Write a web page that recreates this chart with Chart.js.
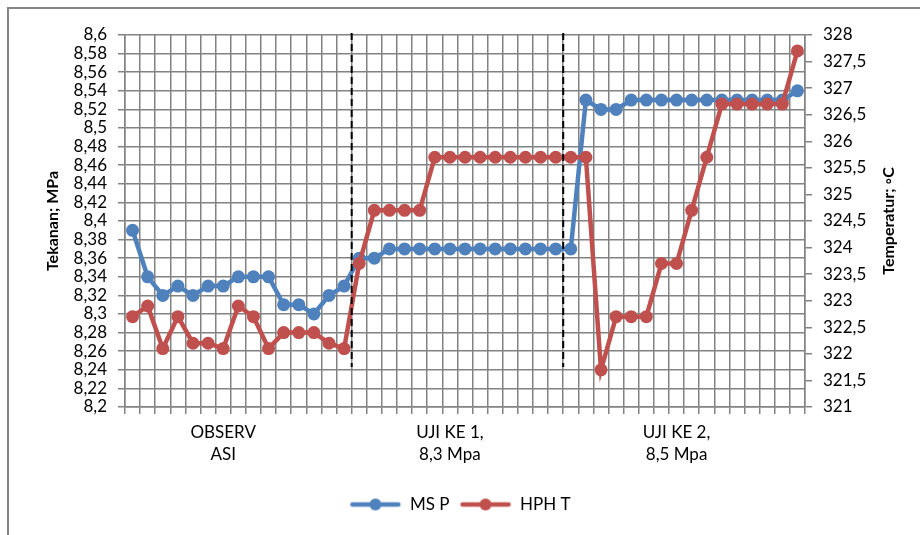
<!DOCTYPE html>
<html>
<head>
<meta charset="utf-8">
<script src="https://cdn.jsdelivr.net/npm/chart.js@4.4.1/dist/chart.umd.min.js"></script>
<style>
  html, body { margin: 0; padding: 0; background: #fff; }
  #wrap { width: 920px; height: 535px; }
</style>
</head>
<body>
<div id="wrap"><canvas id="chart" width="920" height="535"></canvas></div>
<script>
// Label grup pada sumbu X dan posisi kategorinya
const groupLabels = [['OBSERV', 'ASI'], ['UJI KE 1,', '8,3 Mpa'], ['UJI KE 2,', '8,5 Mpa']];
const groupLabelIndex = [6, 21, 36];
const pointCount = 45;

// Tekanan MS (MPa) - sumbu kiri
const msP = [
  8.39, 8.34, 8.32, 8.33, 8.32, 8.33, 8.33, 8.34, 8.34, 8.34, 8.31, 8.31, 8.30, 8.32, 8.33,
  8.36, 8.36, 8.37, 8.37, 8.37, 8.37, 8.37, 8.37, 8.37, 8.37, 8.37, 8.37, 8.37, 8.37, 8.37,
  8.53, 8.52, 8.52, 8.53, 8.53, 8.53, 8.53, 8.53, 8.53, 8.53, 8.53, 8.53, 8.53, 8.53, 8.54
];

// Temperatur HPH (°C) - sumbu kanan
const hphT = [
  322.7, 322.9, 322.1, 322.7, 322.2, 322.2, 322.1, 322.9, 322.7, 322.1, 322.4, 322.4, 322.4, 322.2, 322.1,
  323.7, 324.7, 324.7, 324.7, 324.7, 325.7, 325.7, 325.7, 325.7, 325.7, 325.7, 325.7, 325.7, 325.7, 325.7,
  325.7, 321.7, 322.7, 322.7, 322.7, 323.7, 323.7, 324.7, 325.7, 326.7, 326.7, 326.7, 326.7, 326.7, 327.7
];

// Garis putus-putus pemisah tahap (setelah indeks ini)
const dividerAfter = [14, 28];
const dividerBottom = 8.243;

const BLUE = '#4F81BD';
const RED = '#C0504D';
const FONT = 'Lato, "Open Sans", sans-serif';

// Susun label kategori dari label grup
const categories = [];
for (let i = 0; i < pointCount; i++) {
  const g = groupLabelIndex.indexOf(i);
  categories.push(g >= 0 ? groupLabels[g] : '');
}

function fmt(v) {
  return String(Number(v.toFixed(2))).replace('.', ',');
}

// Ikon legenda: garis + marker seperti Excel
function legendIcon(color) {
  const c = document.createElement('canvas');
  c.width = 52;
  c.height = 14;
  const g = c.getContext('2d');
  g.strokeStyle = color;
  g.lineWidth = 4.5;
  g.lineCap = 'round';
  g.beginPath();
  g.moveTo(3, 7);
  g.lineTo(49, 7);
  g.stroke();
  g.fillStyle = color;
  g.beginPath();
  g.arc(26, 7, 6, 0, Math.PI * 2);
  g.fill();
  return c;
}
const icons = [legendIcon(BLUE), legendIcon(RED)];

const decorPlugin = {
  id: 'decor',
  beforeDraw(chart) {
    const ctx = chart.ctx;
    ctx.save();
    ctx.strokeStyle = '#868686';
    ctx.lineWidth = 2;
    ctx.beginPath();
    ctx.moveTo(8, chart.height);
    ctx.lineTo(8, 8);
    ctx.lineTo(chart.width, 8);
    ctx.stroke();
    ctx.restore();
  },
  afterDatasetsDraw(chart) {
    const ctx = chart.ctx;
    const xs = chart.scales.x;
    const ys = chart.scales.y;
    ctx.save();
    ctx.strokeStyle = '#000';
    ctx.lineWidth = 2;
    ctx.setLineDash([7, 4]);
    dividerAfter.forEach(i => {
      const px = (xs.getPixelForValue(i) + xs.getPixelForValue(i + 1)) / 2;
      ctx.beginPath();
      ctx.moveTo(px, chart.chartArea.top - 2);
      ctx.lineTo(px, ys.getPixelForValue(dividerBottom));
      ctx.stroke();
    });
    ctx.restore();
  },
  afterDraw(chart) {
    // judul sumbu kanan dibaca dari bawah ke atas
    const ctx = chart.ctx;
    const area = chart.chartArea;
    ctx.save();
    ctx.translate(889, (area.top + area.bottom) / 2);
    ctx.rotate(-Math.PI / 2);
    ctx.font = 'bold 16px ' + FONT;
    ctx.fillStyle = '#000';
    ctx.textAlign = 'center';
    ctx.textBaseline = 'middle';
    ctx.fillText('Temperatur; \u25E6C', 0, 0);
    ctx.restore();
  }
};

const gridColor = '#828282';

new Chart(document.getElementById('chart'), {
  type: 'line',
  data: {
    labels: categories,
    datasets: [
      {
        label: 'MS P',
        data: msP,
        yAxisID: 'y',
        borderColor: BLUE,
        backgroundColor: BLUE,
        borderWidth: 4.5,
        pointRadius: 6.5,
        pointBorderWidth: 0,
        pointBackgroundColor: BLUE,
        tension: 0,
        order: 1
      },
      {
        label: 'HPH T',
        data: hphT,
        yAxisID: 'y1',
        borderColor: RED,
        backgroundColor: RED,
        borderWidth: 4.5,
        pointRadius: 6.5,
        pointBorderWidth: 0,
        pointBackgroundColor: RED,
        tension: 0,
        order: 0
      }
    ]
  },
  options: {
    responsive: false,
    animation: false,
    layout: { padding: { top: 35, bottom: 12, left: 0, right: 0 } },
    plugins: {
      tooltip: { enabled: false },
      legend: {
        position: 'bottom',
        labels: {
          usePointStyle: true,
          pointStyleWidth: 52,
          boxHeight: 14,
          padding: 10,
          color: '#000',
          font: { family: FONT, size: 17 },
          sort: (a, b) => a.datasetIndex - b.datasetIndex,
          generateLabels(chart) {
            const items = Chart.defaults.plugins.legend.labels.generateLabels(chart);
            items.forEach(it => { it.pointStyle = icons[it.datasetIndex]; });
            return items;
          }
        }
      }
    },
    scales: {
      x: {
        offset: true,
        grid: { offset: true, color: gridColor, lineWidth: 1.5, tickLength: 7 },
        border: { color: gridColor, width: 1.5 },
        ticks: {
          autoSkip: false,
          maxRotation: 0,
          padding: 7,
          color: '#000',
          font: { family: FONT, size: 17, lineHeight: 1.3 }
        },
        afterFit(scale) { scale.height = 79; }
      },
      y: {
        position: 'left',
        min: 8.2,
        max: 8.6,
        grid: { color: gridColor, lineWidth: 1.5, tickLength: 7 },
        border: { color: gridColor, width: 1.5 },
        ticks: {
          stepSize: 0.02,
          autoSkip: false,
          padding: 11,
          color: '#000',
          font: { family: FONT, size: 17 },
          callback: v => fmt(v)
        },
        title: {
          display: true,
          text: 'Tekanan; MPa',
          color: '#000',
          font: { family: FONT, size: 16, weight: 'bold' },
          padding: { top: 43, bottom: 0 }
        },
        afterFit(scale) { scale.width = 125; }
      },
      y1: {
        position: 'right',
        min: 321,
        max: 328,
        grid: { drawOnChartArea: false, color: gridColor, lineWidth: 1.5, tickLength: 7 },
        border: { color: gridColor, width: 1.5 },
        ticks: {
          stepSize: 0.5,
          autoSkip: false,
          padding: 11,
          color: '#000',
          font: { family: FONT, size: 17 },
          callback: v => fmt(v)
        },
        afterFit(scale) { scale.width = 115; }
      }
    }
  },
  plugins: [decorPlugin]
});
</script>
</body>
</html>
